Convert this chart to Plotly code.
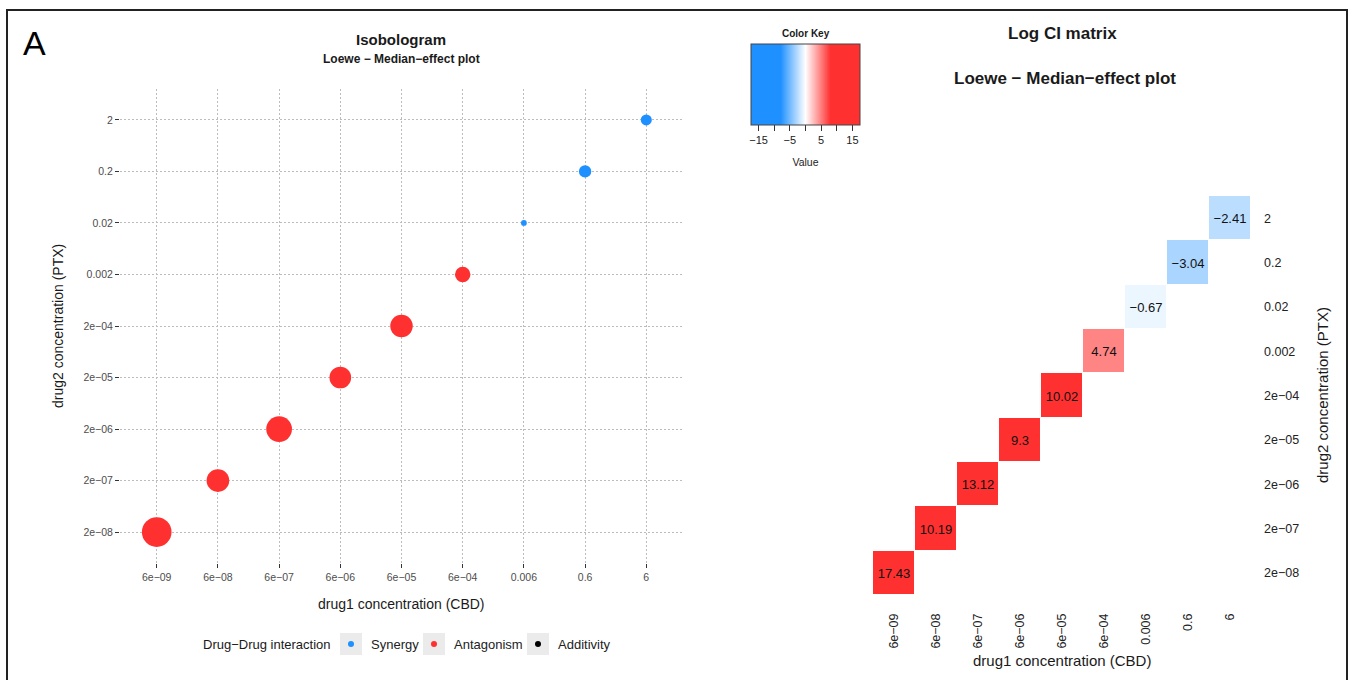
import numpy as np
import plotly.graph_objects as go

W, H = 1349, 680

# Concentration levels (tick labels) and the combination index per dose pair
drug1_labels = ["6e−09", "6e−08", "6e−07", "6e−06", "6e−05", "6e−04", "0.006", "0.6", "6"]
drug2_labels = ["2e−08", "2e−07", "2e−06", "2e−05", "2e−04", "0.002", "0.02", "0.2", "2"]
log_ci = [17.43, 10.19, 13.12, 9.3, 10.02, 4.74, -0.67, -3.04, -2.41]
interaction = ["Antagonism", "Antagonism", "Antagonism", "Antagonism", "Antagonism",
               "Antagonism", "Synergy", "Synergy", "Synergy"]
interaction_levels = ["Synergy", "Antagonism", "Additivity"]

BLUE = "#1E90FF"
RED = "#FF3030"
BLACK = "#000000"
colour_of = {"Synergy": BLUE, "Antagonism": RED, "Additivity": BLACK}

FONT = "Liberation Sans, Arial, sans-serif"


def px(x):
    return x / W


def py(y):
    return 1 - y / H


fig = go.Figure()

# Isobologram: bubble size follows |log CI|
fig.add_trace(go.Scatter(
    x=drug1_labels, y=drug2_labels, mode="markers",
    marker=dict(size=7.1 * np.sqrt(np.abs(log_ci)),
                color=[colour_of[k] for k in interaction], line=dict(width=0), opacity=1),
    showlegend=False, hoverinfo="skip", xaxis="x", yaxis="y",
))

# one legend per interaction class so each key sits on its own grey tile
legend_names = ["legend", "legend2", "legend3"]
for name, lg in zip(interaction_levels, legend_names):
    fig.add_trace(go.Scatter(
        x=[None], y=[None], mode="markers", name=name, legend=lg,
        marker=dict(size=6, color=colour_of[name]), xaxis="x", yaxis="y",
    ))

# Log CI matrix
fig.add_trace(go.Heatmap(
    x=drug1_labels, y=drug2_labels, z=log_ci,
    xaxis="x2", yaxis="y2",
    zmin=-17.43, zmax=17.43,
    colorscale=[[0, BLUE], [0.2705, BLUE], [0.5, "#FFFFFF"], [0.7295, RED], [1, RED]],
    xgap=1, ygap=1,
    texttemplate="%{z}", textfont=dict(size=13, color="#111111", family=FONT),
    hoverinfo="skip",
    colorbar=dict(
        orientation="h", x=px(805.5), xanchor="center", y=py(44), yanchor="top",
        len=109, lenmode="pixels", thickness=81, thicknessmode="pixels",
        xpad=0, ypad=0, outlinewidth=1, outlinecolor="#444444",
        tickvals=[-15, -10, -5, 0, 5, 10, 15],
        ticktext=["−15", "", "−5", "", "5", "", "15"],
        ticks="outside", ticklen=6, tickcolor="#333333", tickwidth=1,
        tickfont=dict(size=11, color="#222222", family=FONT),
        title=dict(text="<br>Value", side="bottom", font=dict(size=10.5, color="#222222", family=FONT)),
    ),
))

grid = dict(showgrid=True, gridcolor="#BDBDBD", griddash="1.5px,2.5px", gridwidth=1,
            zeroline=False, showline=False, ticks="outside", ticklen=4,
            tickcolor="#333333", tickwidth=1,
            tickfont=dict(size=10.5, color="#4D4D4D", family=FONT))

legend_common = dict(orientation="h", xanchor="left", yanchor="middle", y=py(644),
                     bgcolor="rgba(0,0,0,0)", borderwidth=0, itemwidth=30,
                     font=dict(size=13, color="#222222", family=FONT))
key_x = [351, 434, 538]

layout = dict(
    width=W, height=H, margin=dict(l=0, r=0, t=0, b=0),
    paper_bgcolor="white", plot_bgcolor="white",
    font=dict(family=FONT, color="#222222"),
    xaxis=dict(domain=[px(120), px(683)], anchor="y", type="category",
               categoryorder="array", categoryarray=drug1_labels, range=[-0.6, 8.6], **grid),
    yaxis=dict(domain=[py(563), py(89)], anchor="x", type="category",
               categoryorder="array", categoryarray=drug2_labels, range=[-0.6, 8.6], **grid),
    xaxis2=dict(domain=[px(873), px(1251)], anchor="y2", type="category",
                categoryorder="array", categoryarray=drug1_labels, range=[-0.5, 8.5],
                showgrid=False, zeroline=False, showline=False, ticks="", tickangle=-90,
                ticklabelstandoff=15,
                tickfont=dict(size=12.5, color="#222222", family=FONT)),
    yaxis2=dict(domain=[py(595), py(196)], anchor="x2", type="category", side="right",
                categoryorder="array", categoryarray=drug2_labels, range=[-0.5, 8.5],
                showgrid=False, zeroline=False, showline=False, ticks="",
                ticklabelstandoff=12,
                tickfont=dict(size=12.5, color="#222222", family=FONT)),
)
for lg, kx in zip(legend_names, key_x):
    layout[lg] = dict(x=px(kx - 20), **legend_common)

fig.update_layout(**layout)


def label(text, x, y, size, bold=False, angle=0, anchor="center", color="#1A1A1A"):
    fig.add_annotation(
        text=f"<b>{text}</b>" if bold else text,
        x=px(x), y=py(y), xref="paper", yref="paper", showarrow=False,
        xanchor=anchor, yanchor="middle", textangle=angle,
        font=dict(size=size, color=color, family=FONT),
    )


# panel letter and titles
label("A", 34, 43, 34, color="#000000")
label("Isobologram", 401, 39, 15, bold=True)
label("Loewe − Median−effect plot", 401, 59, 12, bold=True)
label("Log CI matrix", 1062, 33, 17, bold=True)
label("Loewe − Median−effect plot", 1065, 78, 17, bold=True)
label("Color Key", 806, 33, 10, bold=True)

# axis titles
label("drug1 concentration (CBD)", 401, 604, 14)
label("drug2 concentration (PTX)", 58, 326, 14, angle=-90)
label("drug1 concentration (CBD)", 1062, 660, 15)
label("drug2 concentration (PTX)", 1322, 395, 15, angle=-90)

# legend title
label("Drug−Drug interaction", 333, 644, 13, anchor="right")

# grey tiles behind legend keys
for kx in key_x:
    fig.add_shape(type="rect", xref="paper", yref="paper",
                  x0=px(kx - 11), x1=px(kx + 11), y0=py(655), y1=py(633),
                  fillcolor="#EBEBEB", line=dict(width=0), layer="below")

# outer frame
fig.add_shape(type="rect", xref="paper", yref="paper",
              x0=px(7), x1=px(1347), y0=py(10), y1=-0.05,
              fillcolor="rgba(0,0,0,0)", line=dict(color="#222222", width=2))

fig.write_html("out.html")
